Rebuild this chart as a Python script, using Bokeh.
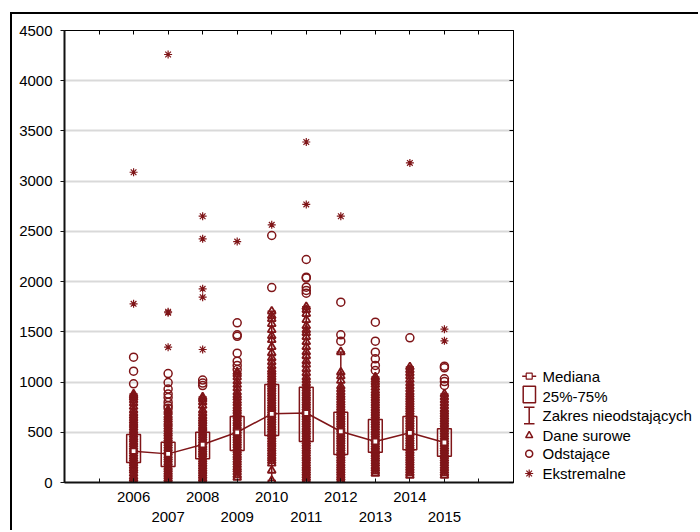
import numpy as np
from bokeh.plotting import figure
from bokeh.models import Range1d, LinearAxis, FixedTicker, Grid, CustomJSTickFormatter
from bokeh.layouts import row
from bokeh.embed import file_html
from bokeh.resources import INLINE
from bokeh.core.properties import value

# ---------------- data ----------------
years = [2006, 2007, 2008, 2009, 2010, 2011, 2012, 2013, 2014, 2015]
medians = [312, 285, 378, 500, 684, 692, 508, 408, 495, 398]
q1 = [200, 159, 236, 319, 468, 408, 279, 302, 325, 262]
q3 = [478, 401, 501, 657, 976, 949, 700, 627, 657, 535]
whisker_lo = [0, 0, 0, 50, 20, 0, 0, 90, 70, 70]
whisker_hi = [880, 720, 850, 1100, 1705, 1750, 1300, 1050, 1150, 880]

outliers = {
    2006: [1248, 1108, 982],
    2007: [1085, 995, 930, 880, 845, 800, 765, 740],
    2008: [1020, 990, 965],
    2009: [1590, 1470, 1455, 1287, 1208, 1165, 1125],
    2010: [2459, 1941],
    2011: [2220, 2044, 2035, 1945, 1912, 1885],
    2012: [1795, 1470, 1407],
    2013: [1596, 1407, 1297, 1231, 1165, 1115],
    2014: [1440],
    2015: [1158, 1142, 1032, 1005, 966],
}

extremes = {
    2006: [3089, 1779],
    2007: [4261, 1700, 1690, 1347],
    2008: [2651, 2426, 1928, 1845, 1324],
    2009: [2399],
    2010: [2565],
    2011: [3390, 2768],
    2012: [2651],
    2013: [],
    2014: [3182],
    2015: [1526, 1410],
}

raw = {
    2006: [0, 15, 40, 62, 90, 118, 140, 165, 190, 212, 238, 260, 285, 310, 332, 355, 380, 402,
           428, 450, 475, 498, 520, 545, 570, 592, 615, 640, 665, 690, 720, 755, 790, 820, 845, 862, 880],
    2007: [0, 12, 35, 60, 82, 105, 130, 152, 178, 200, 225, 248, 270, 295, 318, 340, 365, 390,
           412, 436, 460, 485, 505, 530, 555, 580, 600, 625, 648, 670, 700, 720],
    2008: [0, 18, 42, 65, 88, 112, 136, 160, 185, 208, 230, 255, 280, 302, 326, 350, 372, 398,
           420, 445, 468, 492, 515, 540, 562, 586, 610, 635, 660, 690, 720, 765, 800, 830, 850],
    2009: [50, 75, 102, 128, 150, 176, 200, 224, 250, 272, 298, 320, 345, 370, 394, 418, 442, 466,
           490, 515, 540, 562, 588, 610, 636, 660, 685, 710, 735, 760, 790, 815, 845, 870, 900, 940,
           975, 1010, 1050, 1080, 1100],
    2010: [20, 120, 190, 215, 240, 262, 288, 310, 335, 358, 382, 405, 430, 455, 478, 500, 525, 548,
           572, 596, 620, 645, 668, 692, 716, 740, 762, 786, 810, 835, 858, 882, 905, 930, 952, 976,
           1000, 1025, 1050, 1075, 1100, 1125, 1160, 1200, 1240, 1290, 1350, 1420, 1460, 1520, 1580,
           1630, 1660, 1705],
    2011: [0, 20, 45, 70, 95, 118, 142, 165, 190, 215, 240, 262, 288, 312, 335, 360, 384, 408, 432,
           456, 480, 505, 528, 552, 576, 600, 625, 648, 672, 695, 720, 745, 768, 792, 815, 840, 862,
           888, 910, 935, 960, 990, 1020, 1050, 1090, 1130, 1175, 1210, 1260, 1300, 1350, 1400, 1450,
           1490, 1520, 1560, 1620, 1680, 1720, 1750],
    2012: [0, 22, 48, 72, 96, 120, 145, 168, 192, 218, 240, 265, 290, 312, 338, 360, 385, 410, 432,
           456, 480, 505, 530, 552, 576, 600, 625, 650, 672, 698, 720, 745, 770, 795, 820, 848, 872,
           900, 930, 960, 1015, 1060, 1098, 1300],
    2013: [90, 115, 140, 162, 188, 210, 235, 258, 282, 306, 330, 354, 378, 402, 426, 450, 474, 498,
           522, 546, 570, 595, 618, 642, 666, 690, 715, 740, 765, 790, 815, 840, 865, 890, 915, 945,
           975, 1000, 1025, 1050],
    2014: [70, 95, 120, 145, 170, 195, 218, 242, 266, 290, 314, 338, 362, 386, 410, 435, 460, 484,
           508, 532, 556, 580, 605, 630, 655, 680, 704, 728, 752, 776, 800, 825, 850, 875, 900, 930,
           960, 990, 1025, 1060, 1090, 1120, 1150],
    2015: [70, 95, 118, 142, 166, 190, 214, 238, 262, 286, 310, 334, 358, 382, 406, 430, 455, 480,
           505, 530, 555, 580, 605, 630, 655, 680, 705, 730, 760, 790, 820, 850, 880],
}

y_ticks = [0, 500, 1000, 1500, 2000, 2500, 3000, 3500, 4000, 4500]
tick_years = [2005, 2006, 2007, 2008, 2009, 2010, 2011, 2012, 2013, 2014, 2015, 2016]
label_row1 = [2006, 2008, 2010, 2012, 2014]
label_row2 = [2007, 2009, 2011, 2013, 2015]

legend_labels = ["Mediana", "25%-75%", "Zakres nieodstających", "Dane surowe", "Odstające", "Ekstremalne"]

# ---------------- styling ----------------
RED = "#7f1518"
FONT = "Liberation Sans"

p = figure(width=505, height=516,
           x_range=Range1d(2004, 2017), y_range=Range1d(0, 4500),
           x_axis_type=None, y_axis_type=None,
           output_backend="svg", toolbar_location=None,
           min_border_left=52, min_border_right=4, min_border_top=16, min_border_bottom=48,
           outline_line_color="black", outline_line_width=1,
           background_fill_color="white", border_fill_color="white", align="start")

blank = CustomJSTickFormatter(code="return ''")

yax = LinearAxis(ticker=FixedTicker(ticks=y_ticks),
                 axis_line_width=2, axis_line_color="#111111",
                 major_tick_out=4, major_tick_in=0, major_tick_line_color="#111111",
                 minor_tick_out=0, minor_tick_in=0,
                 major_label_text_font=FONT, major_label_text_font_size="15px",
                 major_label_text_color="black", major_label_standoff=8)
p.add_layout(yax, "left")

rax = LinearAxis(ticker=FixedTicker(ticks=y_ticks), formatter=blank,
                 axis_line_width=1, axis_line_color="black",
                 major_tick_out=0, major_tick_in=4, minor_tick_out=0, minor_tick_in=0,
                 major_label_text_font_size="1px", major_label_standoff=0)
p.add_layout(rax, "right")

tax = LinearAxis(ticker=FixedTicker(ticks=tick_years), formatter=blank,
                 axis_line_width=1, axis_line_color="black",
                 major_tick_out=0, major_tick_in=4, minor_tick_out=0, minor_tick_in=0,
                 major_label_text_font_size="1px", major_label_standoff=0)
p.add_layout(tax, "above")

bax1 = LinearAxis(ticker=FixedTicker(ticks=label_row1, minor_ticks=tick_years),
                  axis_line_width=2, axis_line_color="#111111",
                  major_tick_out=0, major_tick_in=4, minor_tick_out=0, minor_tick_in=4,
                  major_tick_line_color="#111111", minor_tick_line_color="#111111",
                  major_label_text_font=FONT, major_label_text_font_size="15px",
                  major_label_text_color="black", major_label_standoff=9)
p.add_layout(bax1, "below")

bax2 = LinearAxis(ticker=FixedTicker(ticks=label_row2),
                  axis_line_color=None, major_tick_line_color=None, minor_tick_line_color=None,
                  major_tick_out=0, major_tick_in=0, minor_tick_out=0, minor_tick_in=0,
                  major_label_text_font=FONT, major_label_text_font_size="15px",
                  major_label_text_color="black", major_label_standoff=7)
p.add_layout(bax2, "below")

p.add_layout(Grid(dimension=1, ticker=yax.ticker, grid_line_color="#d9d9d9", grid_line_width=2))

yrs = np.array(years, dtype=float)

# boxes
p.vbar(x=years, width=0.4, bottom=q1, top=q3, fill_color=None, line_color=RED, line_width=1.5)

# whiskers
p.segment(x0=years, y0=q3, x1=years, y1=whisker_hi, line_color=RED, line_width=1.5)
p.segment(x0=years, y0=q1, x1=years, y1=whisker_lo, line_color=RED, line_width=1.5)
p.segment(x0=list(yrs - 0.12), y0=whisker_hi, x1=list(yrs + 0.12), y1=whisker_hi, line_color=RED, line_width=1.5)
p.segment(x0=list(yrs - 0.12), y0=whisker_lo, x1=list(yrs + 0.12), y1=whisker_lo, line_color=RED, line_width=1.5)

# raw data
rx = [y for y in years for _ in raw[y]]
ry = [v for y in years for v in raw[y]]
p.scatter(x=rx, y=ry, marker="triangle", size=8, fill_color=None, line_color=RED, line_width=1.8)

# median line
p.line(x=years, y=medians, line_color=RED, line_width=1.5)
p.scatter(x=years, y=medians, marker="square", size=5, fill_color="white", line_color=RED, line_width=1.2)

# outliers
ox = [y for y in years for _ in outliers[y]]
oy = [v for y in years for v in outliers[y]]
p.scatter(x=ox, y=oy, marker="circle", size=8, fill_color=None, line_color=RED, line_width=1.5)

# extremes
ex = [y for y in years for _ in extremes[y]]
ey = [v for y in years for v in extremes[y]]
p.scatter(x=ex, y=ey, marker="asterisk", size=8, line_color=RED, line_width=1.2)

# ---------------- legend panel (pixel coordinates, y down from frame top) ----------------
LW, LFH = 181, 452
leg = figure(width=LW, height=516,
             x_range=Range1d(0, LW), y_range=Range1d(LFH, 0),
             x_axis_type=None, y_axis_type=None,
             output_backend="svg", toolbar_location=None,
             min_border_left=0, min_border_right=0, min_border_top=16, min_border_bottom=48,
             outline_line_color=None,
             background_fill_color="white", border_fill_color="white", align="start")

ty = [345.7, 365.5, 385, 405, 423.3, 443]      # label centres
sy = [345.7, 364, 385, 405, 423.3, 443]        # symbol centres
sx = 11.7
# Mediana: line with a small square
leg.segment(x0=[4.7], y0=[sy[0]], x1=[18.7], y1=[sy[0]], line_color=RED, line_width=1.5)
leg.scatter(x=[sx], y=[sy[0]], marker="square", size=6, fill_color="white", line_color=RED, line_width=1.2)
# 25%-75%: box
leg.quad(left=[5.7], right=[18], top=[sy[1] - 8.3], bottom=[sy[1] + 8.3],
         fill_color=None, line_color=RED, line_width=1.5)
# Zakres nieodstających: I-beam
leg.segment(x0=[sx, 6.5, 6.5], y0=[sy[2] - 8.3, sy[2] - 8.3, sy[2] + 8.3],
            x1=[sx, 17, 17], y1=[sy[2] + 8.3, sy[2] - 8.3, sy[2] + 8.3],
            line_color=RED, line_width=1.5)
leg.scatter(x=[sx], y=[sy[3]], marker="triangle", size=7, fill_color=None, line_color=RED, line_width=1.5)
leg.scatter(x=[sx], y=[sy[4]], marker="circle", size=7, fill_color=None, line_color=RED, line_width=1.5)
leg.scatter(x=[sx], y=[sy[5]], marker="asterisk", size=8, line_color=RED, line_width=1.2)

leg.text(x=[25] * 6, y=ty, text=legend_labels, text_font=value(FONT), text_font_size="15px",
         text_baseline="middle", text_align="left", text_color="black")

layout = row(p, leg, spacing=0, margin=(12, 0, 0, 10),
             styles={"border-top": "2px solid black", "border-left": "2px solid black"})

open("out.html", "w").write(file_html(layout, INLINE))
